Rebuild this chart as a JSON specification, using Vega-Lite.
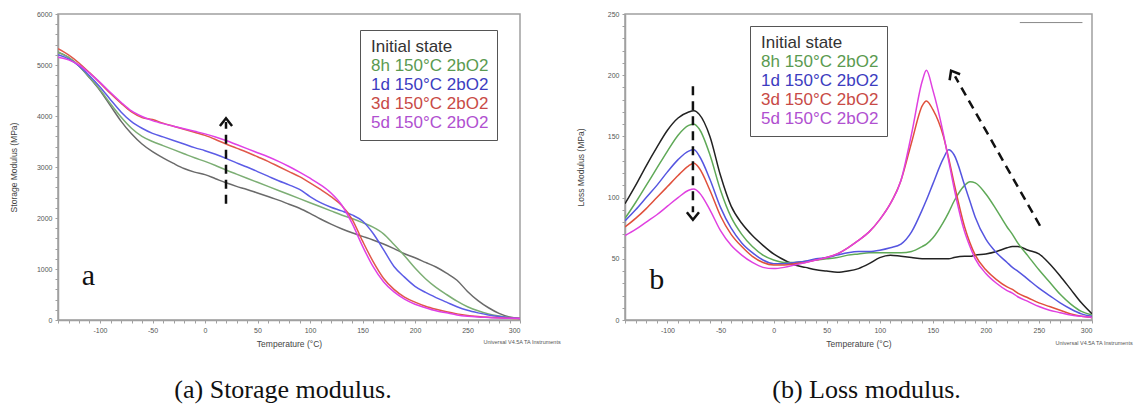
{
  "$schema": "https://vega.github.io/schema/vega-lite/v6.json",
  "background": "white",
  "padding": {"left": 8, "top": 9, "right": 5, "bottom": 5},
  "bounds": "flush",
  "spacing": 105,
  "config": {
    "view": {"stroke": "#a0a0a0", "strokeWidth": 1.5},
    "axis": {"domainColor": "#a0a0a0", "domainWidth": 1.5, "tickColor": "#a0a0a0", "labelColor": "#555", "labelFont": "Liberation Sans", "labelFontSize": 7, "titleFont": "Liberation Sans", "titleFontSize": 8.5, "titleFontWeight": "normal", "titleColor": "#444", "grid": false, "tickSize": 3, "labelPadding": 3}
  },
  "datasets": {
    "storage": [
      {"T":-140,"Initial state":5250,"8h 150°C 2bO2":5250,"1d 150°C 2bO2":5200,"3d 150°C 2bO2":5320,"5d 150°C 2bO2":5150},
      {"T":-130,"Initial state":5150,"8h 150°C 2bO2":5150,"1d 150°C 2bO2":5120,"3d 150°C 2bO2":5200,"5d 150°C 2bO2":5100},
      {"T":-120,"Initial state":4980,"8h 150°C 2bO2":4980,"1d 150°C 2bO2":4980,"3d 150°C 2bO2":5040,"5d 150°C 2bO2":5000},
      {"T":-110,"Initial state":4750,"8h 150°C 2bO2":4760,"1d 150°C 2bO2":4790,"3d 150°C 2bO2":4850,"5d 150°C 2bO2":4840},
      {"T":-100,"Initial state":4500,"8h 150°C 2bO2":4520,"1d 150°C 2bO2":4570,"3d 150°C 2bO2":4650,"5d 150°C 2bO2":4660},
      {"T":-90,"Initial state":4200,"8h 150°C 2bO2":4240,"1d 150°C 2bO2":4320,"3d 150°C 2bO2":4440,"5d 150°C 2bO2":4460},
      {"T":-80,"Initial state":3900,"8h 150°C 2bO2":3980,"1d 150°C 2bO2":4080,"3d 150°C 2bO2":4250,"5d 150°C 2bO2":4270},
      {"T":-70,"Initial state":3650,"8h 150°C 2bO2":3760,"1d 150°C 2bO2":3890,"3d 150°C 2bO2":4080,"5d 150°C 2bO2":4100},
      {"T":-60,"Initial state":3450,"8h 150°C 2bO2":3600,"1d 150°C 2bO2":3760,"3d 150°C 2bO2":3970,"5d 150°C 2bO2":3990},
      {"T":-50,"Initial state":3300,"8h 150°C 2bO2":3500,"1d 150°C 2bO2":3660,"3d 150°C 2bO2":3930,"5d 150°C 2bO2":3910},
      {"T":-40,"Initial state":3180,"8h 150°C 2bO2":3420,"1d 150°C 2bO2":3590,"3d 150°C 2bO2":3860,"5d 150°C 2bO2":3850},
      {"T":-30,"Initial state":3070,"8h 150°C 2bO2":3340,"1d 150°C 2bO2":3520,"3d 150°C 2bO2":3800,"5d 150°C 2bO2":3800},
      {"T":-20,"Initial state":2970,"8h 150°C 2bO2":3260,"1d 150°C 2bO2":3450,"3d 150°C 2bO2":3740,"5d 150°C 2bO2":3750},
      {"T":-10,"Initial state":2900,"8h 150°C 2bO2":3180,"1d 150°C 2bO2":3380,"3d 150°C 2bO2":3680,"5d 150°C 2bO2":3700},
      {"T":0,"Initial state":2850,"8h 150°C 2bO2":3110,"1d 150°C 2bO2":3320,"3d 150°C 2bO2":3620,"5d 150°C 2bO2":3650},
      {"T":10,"Initial state":2770,"8h 150°C 2bO2":3030,"1d 150°C 2bO2":3250,"3d 150°C 2bO2":3540,"5d 150°C 2bO2":3590},
      {"T":20,"Initial state":2690,"8h 150°C 2bO2":2940,"1d 150°C 2bO2":3170,"3d 150°C 2bO2":3450,"5d 150°C 2bO2":3520},
      {"T":30,"Initial state":2620,"8h 150°C 2bO2":2860,"1d 150°C 2bO2":3080,"3d 150°C 2bO2":3370,"5d 150°C 2bO2":3440},
      {"T":40,"Initial state":2560,"8h 150°C 2bO2":2780,"1d 150°C 2bO2":3000,"3d 150°C 2bO2":3290,"5d 150°C 2bO2":3360},
      {"T":50,"Initial state":2490,"8h 150°C 2bO2":2700,"1d 150°C 2bO2":2910,"3d 150°C 2bO2":3200,"5d 150°C 2bO2":3280},
      {"T":60,"Initial state":2420,"8h 150°C 2bO2":2620,"1d 150°C 2bO2":2820,"3d 150°C 2bO2":3110,"5d 150°C 2bO2":3200},
      {"T":70,"Initial state":2350,"8h 150°C 2bO2":2540,"1d 150°C 2bO2":2730,"3d 150°C 2bO2":3010,"5d 150°C 2bO2":3110},
      {"T":80,"Initial state":2270,"8h 150°C 2bO2":2460,"1d 150°C 2bO2":2650,"3d 150°C 2bO2":2910,"5d 150°C 2bO2":3010},
      {"T":90,"Initial state":2190,"8h 150°C 2bO2":2380,"1d 150°C 2bO2":2560,"3d 150°C 2bO2":2810,"5d 150°C 2bO2":2900},
      {"T":100,"Initial state":2090,"8h 150°C 2bO2":2300,"1d 150°C 2bO2":2420,"3d 150°C 2bO2":2690,"5d 150°C 2bO2":2780},
      {"T":110,"Initial state":1980,"8h 150°C 2bO2":2220,"1d 150°C 2bO2":2300,"3d 150°C 2bO2":2560,"5d 150°C 2bO2":2650},
      {"T":120,"Initial state":1880,"8h 150°C 2bO2":2140,"1d 150°C 2bO2":2210,"3d 150°C 2bO2":2420,"5d 150°C 2bO2":2490},
      {"T":130,"Initial state":1790,"8h 150°C 2bO2":2060,"1d 150°C 2bO2":2140,"3d 150°C 2bO2":2250,"5d 150°C 2bO2":2260},
      {"T":140,"Initial state":1710,"8h 150°C 2bO2":1990,"1d 150°C 2bO2":2060,"3d 150°C 2bO2":1980,"5d 150°C 2bO2":1900},
      {"T":150,"Initial state":1640,"8h 150°C 2bO2":1910,"1d 150°C 2bO2":1940,"3d 150°C 2bO2":1550,"5d 150°C 2bO2":1450},
      {"T":160,"Initial state":1570,"8h 150°C 2bO2":1820,"1d 150°C 2bO2":1700,"3d 150°C 2bO2":1150,"5d 150°C 2bO2":1050},
      {"T":170,"Initial state":1490,"8h 150°C 2bO2":1690,"1d 150°C 2bO2":1380,"3d 150°C 2bO2":820,"5d 150°C 2bO2":750},
      {"T":180,"Initial state":1400,"8h 150°C 2bO2":1480,"1d 150°C 2bO2":1050,"3d 150°C 2bO2":600,"5d 150°C 2bO2":550},
      {"T":190,"Initial state":1300,"8h 150°C 2bO2":1260,"1d 150°C 2bO2":840,"3d 150°C 2bO2":450,"5d 150°C 2bO2":410},
      {"T":200,"Initial state":1220,"8h 150°C 2bO2":1020,"1d 150°C 2bO2":660,"3d 150°C 2bO2":350,"5d 150°C 2bO2":310},
      {"T":210,"Initial state":1130,"8h 150°C 2bO2":810,"1d 150°C 2bO2":540,"3d 150°C 2bO2":270,"5d 150°C 2bO2":240},
      {"T":220,"Initial state":1040,"8h 150°C 2bO2":640,"1d 150°C 2bO2":440,"3d 150°C 2bO2":210,"5d 150°C 2bO2":180},
      {"T":230,"Initial state":920,"8h 150°C 2bO2":500,"1d 150°C 2bO2":350,"3d 150°C 2bO2":160,"5d 150°C 2bO2":140},
      {"T":240,"Initial state":780,"8h 150°C 2bO2":370,"1d 150°C 2bO2":260,"3d 150°C 2bO2":120,"5d 150°C 2bO2":100},
      {"T":250,"Initial state":560,"8h 150°C 2bO2":260,"1d 150°C 2bO2":190,"3d 150°C 2bO2":90,"5d 150°C 2bO2":75},
      {"T":260,"Initial state":380,"8h 150°C 2bO2":180,"1d 150°C 2bO2":140,"3d 150°C 2bO2":70,"5d 150°C 2bO2":60},
      {"T":270,"Initial state":240,"8h 150°C 2bO2":120,"1d 150°C 2bO2":100,"3d 150°C 2bO2":55,"5d 150°C 2bO2":50},
      {"T":280,"Initial state":130,"8h 150°C 2bO2":80,"1d 150°C 2bO2":70,"3d 150°C 2bO2":45,"5d 150°C 2bO2":40},
      {"T":290,"Initial state":60,"8h 150°C 2bO2":50,"1d 150°C 2bO2":45,"3d 150°C 2bO2":35,"5d 150°C 2bO2":35},
      {"T":300,"Initial state":30,"8h 150°C 2bO2":30,"1d 150°C 2bO2":30,"3d 150°C 2bO2":30,"5d 150°C 2bO2":30}
    ],
    "loss": [
      {"T":-140,"Initial state":95,"8h 150°C 2bO2":83,"1d 150°C 2bO2":81,"3d 150°C 2bO2":76,"5d 150°C 2bO2":69},
      {"T":-130,"Initial state":110,"8h 150°C 2bO2":96,"1d 150°C 2bO2":90,"3d 150°C 2bO2":83,"5d 150°C 2bO2":74},
      {"T":-120,"Initial state":126,"8h 150°C 2bO2":110,"1d 150°C 2bO2":100,"3d 150°C 2bO2":91,"5d 150°C 2bO2":80},
      {"T":-110,"Initial state":141,"8h 150°C 2bO2":124,"1d 150°C 2bO2":110,"3d 150°C 2bO2":100,"5d 150°C 2bO2":86},
      {"T":-100,"Initial state":155,"8h 150°C 2bO2":138,"1d 150°C 2bO2":121,"3d 150°C 2bO2":109,"5d 150°C 2bO2":93},
      {"T":-90,"Initial state":165,"8h 150°C 2bO2":151,"1d 150°C 2bO2":131,"3d 150°C 2bO2":118,"5d 150°C 2bO2":100},
      {"T":-80,"Initial state":170,"8h 150°C 2bO2":159,"1d 150°C 2bO2":138,"3d 150°C 2bO2":126,"5d 150°C 2bO2":106},
      {"T":-75,"Initial state":171,"8h 150°C 2bO2":160,"1d 150°C 2bO2":139,"3d 150°C 2bO2":128,"5d 150°C 2bO2":107},
      {"T":-70,"Initial state":168,"8h 150°C 2bO2":156,"1d 150°C 2bO2":134,"3d 150°C 2bO2":124,"5d 150°C 2bO2":104},
      {"T":-60,"Initial state":150,"8h 150°C 2bO2":135,"1d 150°C 2bO2":115,"3d 150°C 2bO2":106,"5d 150°C 2bO2":90},
      {"T":-50,"Initial state":118,"8h 150°C 2bO2":106,"1d 150°C 2bO2":92,"3d 150°C 2bO2":85,"5d 150°C 2bO2":73},
      {"T":-40,"Initial state":93,"8h 150°C 2bO2":84,"1d 150°C 2bO2":75,"3d 150°C 2bO2":70,"5d 150°C 2bO2":61},
      {"T":-30,"Initial state":79,"8h 150°C 2bO2":70,"1d 150°C 2bO2":63,"3d 150°C 2bO2":60,"5d 150°C 2bO2":53},
      {"T":-20,"Initial state":69,"8h 150°C 2bO2":60,"1d 150°C 2bO2":55,"3d 150°C 2bO2":52,"5d 150°C 2bO2":47},
      {"T":-10,"Initial state":61,"8h 150°C 2bO2":53,"1d 150°C 2bO2":49,"3d 150°C 2bO2":47,"5d 150°C 2bO2":43},
      {"T":0,"Initial state":54,"8h 150°C 2bO2":49,"1d 150°C 2bO2":46,"3d 150°C 2bO2":45,"5d 150°C 2bO2":42},
      {"T":10,"Initial state":49,"8h 150°C 2bO2":47,"1d 150°C 2bO2":46,"3d 150°C 2bO2":45,"5d 150°C 2bO2":43},
      {"T":20,"Initial state":45,"8h 150°C 2bO2":47,"1d 150°C 2bO2":47,"3d 150°C 2bO2":46,"5d 150°C 2bO2":45},
      {"T":30,"Initial state":43,"8h 150°C 2bO2":48,"1d 150°C 2bO2":48,"3d 150°C 2bO2":47,"5d 150°C 2bO2":47},
      {"T":40,"Initial state":41,"8h 150°C 2bO2":49,"1d 150°C 2bO2":50,"3d 150°C 2bO2":49,"5d 150°C 2bO2":49},
      {"T":50,"Initial state":40,"8h 150°C 2bO2":50,"1d 150°C 2bO2":51,"3d 150°C 2bO2":51,"5d 150°C 2bO2":51},
      {"T":60,"Initial state":39,"8h 150°C 2bO2":51,"1d 150°C 2bO2":53,"3d 150°C 2bO2":54,"5d 150°C 2bO2":54},
      {"T":70,"Initial state":40,"8h 150°C 2bO2":53,"1d 150°C 2bO2":55,"3d 150°C 2bO2":59,"5d 150°C 2bO2":59},
      {"T":80,"Initial state":42,"8h 150°C 2bO2":54,"1d 150°C 2bO2":56,"3d 150°C 2bO2":65,"5d 150°C 2bO2":65},
      {"T":90,"Initial state":46,"8h 150°C 2bO2":55,"1d 150°C 2bO2":56,"3d 150°C 2bO2":72,"5d 150°C 2bO2":72},
      {"T":100,"Initial state":51,"8h 150°C 2bO2":55,"1d 150°C 2bO2":57,"3d 150°C 2bO2":82,"5d 150°C 2bO2":82},
      {"T":110,"Initial state":53,"8h 150°C 2bO2":55,"1d 150°C 2bO2":59,"3d 150°C 2bO2":95,"5d 150°C 2bO2":95},
      {"T":120,"Initial state":52,"8h 150°C 2bO2":55,"1d 150°C 2bO2":62,"3d 150°C 2bO2":114,"5d 150°C 2bO2":114},
      {"T":130,"Initial state":51,"8h 150°C 2bO2":56,"1d 150°C 2bO2":72,"3d 150°C 2bO2":145,"5d 150°C 2bO2":152},
      {"T":140,"Initial state":50,"8h 150°C 2bO2":60,"1d 150°C 2bO2":90,"3d 150°C 2bO2":175,"5d 150°C 2bO2":195},
      {"T":144,"Initial state":50,"8h 150°C 2bO2":62,"1d 150°C 2bO2":98,"3d 150°C 2bO2":179,"5d 150°C 2bO2":204},
      {"T":150,"Initial state":50,"8h 150°C 2bO2":67,"1d 150°C 2bO2":111,"3d 150°C 2bO2":172,"5d 150°C 2bO2":188},
      {"T":160,"Initial state":50,"8h 150°C 2bO2":80,"1d 150°C 2bO2":132,"3d 150°C 2bO2":150,"5d 150°C 2bO2":152},
      {"T":165,"Initial state":50,"8h 150°C 2bO2":88,"1d 150°C 2bO2":139,"3d 150°C 2bO2":132,"5d 150°C 2bO2":130},
      {"T":170,"Initial state":51,"8h 150°C 2bO2":97,"1d 150°C 2bO2":135,"3d 150°C 2bO2":112,"5d 150°C 2bO2":108},
      {"T":180,"Initial state":52,"8h 150°C 2bO2":110,"1d 150°C 2bO2":110,"3d 150°C 2bO2":76,"5d 150°C 2bO2":72},
      {"T":185,"Initial state":52,"8h 150°C 2bO2":113,"1d 150°C 2bO2":97,"3d 150°C 2bO2":63,"5d 150°C 2bO2":60},
      {"T":190,"Initial state":53,"8h 150°C 2bO2":112,"1d 150°C 2bO2":84,"3d 150°C 2bO2":53,"5d 150°C 2bO2":50},
      {"T":200,"Initial state":54,"8h 150°C 2bO2":103,"1d 150°C 2bO2":66,"3d 150°C 2bO2":41,"5d 150°C 2bO2":38},
      {"T":210,"Initial state":56,"8h 150°C 2bO2":90,"1d 150°C 2bO2":55,"3d 150°C 2bO2":33,"5d 150°C 2bO2":30},
      {"T":220,"Initial state":59,"8h 150°C 2bO2":76,"1d 150°C 2bO2":47,"3d 150°C 2bO2":27,"5d 150°C 2bO2":24},
      {"T":225,"Initial state":60,"8h 150°C 2bO2":70,"1d 150°C 2bO2":43,"3d 150°C 2bO2":25,"5d 150°C 2bO2":22},
      {"T":230,"Initial state":60,"8h 150°C 2bO2":63,"1d 150°C 2bO2":40,"3d 150°C 2bO2":22,"5d 150°C 2bO2":19},
      {"T":240,"Initial state":57,"8h 150°C 2bO2":52,"1d 150°C 2bO2":33,"3d 150°C 2bO2":18,"5d 150°C 2bO2":15},
      {"T":250,"Initial state":54,"8h 150°C 2bO2":41,"1d 150°C 2bO2":26,"3d 150°C 2bO2":14,"5d 150°C 2bO2":11},
      {"T":260,"Initial state":46,"8h 150°C 2bO2":31,"1d 150°C 2bO2":20,"3d 150°C 2bO2":11,"5d 150°C 2bO2":8},
      {"T":270,"Initial state":36,"8h 150°C 2bO2":21,"1d 150°C 2bO2":14,"3d 150°C 2bO2":8,"5d 150°C 2bO2":6},
      {"T":280,"Initial state":25,"8h 150°C 2bO2":13,"1d 150°C 2bO2":9,"3d 150°C 2bO2":5,"5d 150°C 2bO2":4},
      {"T":290,"Initial state":14,"8h 150°C 2bO2":7,"1d 150°C 2bO2":5,"3d 150°C 2bO2":3,"5d 150°C 2bO2":3},
      {"T":300,"Initial state":5,"8h 150°C 2bO2":4,"1d 150°C 2bO2":3,"3d 150°C 2bO2":2,"5d 150°C 2bO2":2}
    ]
  },
  "resolve": {"scale": {"color": "independent"}},
  "hconcat": [
    {
      "width": 462,
      "height": 306,
      "title": {"text": "(a) Storage modulus.", "orient": "bottom", "font": "Liberation Serif", "fontSize": 26, "fontWeight": "normal", "color": "#111", "offset": 29, "dx": -6},
      "layer": [
        {
          "data": {"name": "storage"},
          "transform": [{"fold": ["Initial state", "8h 150°C 2bO2", "1d 150°C 2bO2", "3d 150°C 2bO2", "5d 150°C 2bO2"], "as": ["series", "value"]}],
          "mark": {"type": "line", "interpolate": "monotone", "strokeWidth": 1.5, "clip": true},
          "encoding": {
            "x": {"field": "T", "type": "quantitative", "scale": {"domain": [-140, 300], "nice": false, "zero": false},
              "axis": {"title": "Temperature (°C)", "tickCount": 200, "values": [-140,-130,-120,-110,-100,-90,-80,-70,-60,-50,-40,-30,-20,-10,0,10,20,30,40,50,60,70,80,90,100,110,120,130,140,150,160,170,180,190,200,210,220,230,240,250,260,270,280,290,300], "labelExpr": "datum.value % 50 == 0 ? '' + datum.value : ''", "labelOverlap": false, "titlePadding": 6}},
            "y": {"field": "value", "type": "quantitative", "scale": {"domain": [0, 6000], "nice": false},
              "axis": {"title": "Storage Modulus (MPa)", "tickCount": 200, "values": [0,200,400,600,800,1000,1200,1400,1600,1800,2000,2200,2400,2600,2800,3000,3200,3400,3600,3800,4000,4200,4400,4600,4800,5000,5200,5400,5600,5800,6000], "labelExpr": "datum.value % 1000 == 0 ? '' + datum.value : ''", "labelOverlap": false, "titlePadding": 18}},
            "color": {"field": "series", "type": "nominal", "sort": null,
              "scale": {"domain": ["Initial state", "8h 150°C 2bO2", "1d 150°C 2bO2", "3d 150°C 2bO2", "5d 150°C 2bO2"], "range": ["#6a6a6a", "#7cae74", "#5c5ce6", "#e0584a", "#e040e6"]},
              "legend": {"orient": "none", "legendX": 302, "legendY": 16, "title": null, "symbolType": "circle", "symbolOpacity": 0, "symbolSize": 0, "symbolStrokeWidth": 0, "labelFont": "Liberation Sans", "labelFontSize": 17, "labelLimit": 300, "labelOffset": -14, "strokeColor": "#555", "padding": 8, "fillColor": "white", "rowPadding": 1.2,
                "encode": {"labels": {"update": {"fill": {"signal": "datum.value == 'Initial state' ? '#333333' : datum.value == '8h 150°C 2bO2' ? '#5a9a50' : datum.value == '1d 150°C 2bO2' ? '#3c3cc0' : datum.value == '3d 150°C 2bO2' ? '#c84a46' : '#b050d0'"}}}}}
            }
          }
        },
        {
          "data": {"values": [{"T": 20, "v": 2280, "T2": 20, "v2": 3880}]},
          "mark": {"type": "rule", "strokeDash": [9, 6], "strokeWidth": 2.5, "color": "#111"},
          "encoding": {"x": {"field": "T", "type": "quantitative"}, "y": {"field": "v", "type": "quantitative"}, "x2": {"field": "T2"}, "y2": {"field": "v2"}}
        },
        {
          "data": {"values": [{"T": 20, "v": 3880}]},
          "mark": {"type": "point", "shape": "M-0.8,0.5L0,-0.5L0.8,0.5", "filled": false, "size": 230, "strokeWidth": 2.5, "color": "#111", "opacity": 1},
          "encoding": {"x": {"field": "T", "type": "quantitative"}, "y": {"field": "v", "type": "quantitative"}}
        },
        {
          "data": {"values": [{"T": -111, "v": 865, "label": "a"}]},
          "mark": {"type": "text", "font": "Liberation Serif", "fontSize": 30, "color": "#111", "baseline": "middle", "align": "center"},
          "encoding": {"x": {"field": "T", "type": "quantitative"}, "y": {"field": "v", "type": "quantitative"}, "text": {"field": "label"}}
        },
        {
          "data": {"values": [{"T": 302, "v": 0, "label": "Universal V4.5A TA Instruments"}]},
          "mark": {"type": "text", "font": "Liberation Sans", "fontSize": 5.5, "color": "#555", "baseline": "middle", "align": "center", "dy": 22, "clip": false},
          "encoding": {"x": {"field": "T", "type": "quantitative"}, "y": {"field": "v", "type": "quantitative"}, "text": {"field": "label"}}
        }
      ]
    },
    {
      "width": 467,
      "height": 306,
      "title": {"text": "(b) Loss modulus.", "orient": "bottom", "font": "Liberation Serif", "fontSize": 26, "fontWeight": "normal", "color": "#111", "offset": 29, "dx": 8},
      "layer": [
        {
          "data": {"name": "loss"},
          "transform": [{"fold": ["Initial state", "8h 150°C 2bO2", "1d 150°C 2bO2", "3d 150°C 2bO2", "5d 150°C 2bO2"], "as": ["series", "value"]}],
          "mark": {"type": "line", "interpolate": "monotone", "strokeWidth": 1.5, "clip": true},
          "encoding": {
            "x": {"field": "T", "type": "quantitative", "scale": {"domain": [-140, 300], "nice": false, "zero": false},
              "axis": {"title": "Temperature (°C)", "tickCount": 200, "values": [-140,-130,-120,-110,-100,-90,-80,-70,-60,-50,-40,-30,-20,-10,0,10,20,30,40,50,60,70,80,90,100,110,120,130,140,150,160,170,180,190,200,210,220,230,240,250,260,270,280,290,300], "labelExpr": "datum.value % 50 == 0 ? '' + datum.value : ''", "labelOverlap": false, "titlePadding": 6}},
            "y": {"field": "value", "type": "quantitative", "scale": {"domain": [0, 250], "nice": false},
              "axis": {"title": "Loss Modulus (MPa)", "tickCount": 200, "values": [0,10,20,30,40,50,60,70,80,90,100,110,120,130,140,150,160,170,180,190,200,210,220,230,240,250], "labelExpr": "datum.value % 50 == 0 ? '' + datum.value : ''", "labelOverlap": false, "titlePadding": 22}},
            "color": {"field": "series", "type": "nominal", "sort": null,
              "scale": {"domain": ["Initial state", "8h 150°C 2bO2", "1d 150°C 2bO2", "3d 150°C 2bO2", "5d 150°C 2bO2"], "range": ["#222222", "#5fa957", "#5555e0", "#e0503c", "#e040e0"]},
              "legend": {"orient": "none", "legendX": 125, "legendY": 12, "title": null, "symbolType": "circle", "symbolOpacity": 0, "symbolSize": 0, "symbolStrokeWidth": 0, "labelFont": "Liberation Sans", "labelFontSize": 17, "labelLimit": 300, "labelOffset": -14, "strokeColor": "#555", "padding": 8, "fillColor": "white", "rowPadding": 1.2,
                "encode": {"labels": {"update": {"fill": {"signal": "datum.value == 'Initial state' ? '#333333' : datum.value == '8h 150°C 2bO2' ? '#5a9a50' : datum.value == '1d 150°C 2bO2' ? '#3c3cc0' : datum.value == '3d 150°C 2bO2' ? '#c84a46' : '#b050d0'"}}}}}
            }
          }
        },
        {
          "data": {"values": [{"T": -76, "v": 191, "T2": -76, "v2": 88}, {"T": 251, "v": 77, "T2": 171, "v2": 199}]},
          "mark": {"type": "rule", "strokeDash": [9, 6], "strokeWidth": 2.5, "color": "#111"},
          "encoding": {"x": {"field": "T", "type": "quantitative"}, "y": {"field": "v", "type": "quantitative"}, "x2": {"field": "T2"}, "y2": {"field": "v2"}}
        },
        {
          "data": {"values": [{"T": -76, "v": 85}]},
          "mark": {"type": "point", "shape": "M-0.8,-0.5L0,0.5L0.8,-0.5", "filled": false, "size": 230, "strokeWidth": 2.5, "color": "#111", "opacity": 1},
          "encoding": {"x": {"field": "T", "type": "quantitative"}, "y": {"field": "v", "type": "quantitative"}}
        },
        {
          "data": {"values": [{"T": 169, "v": 201}]},
          "mark": {"type": "point", "shape": "M-0.8,0.5L0,-0.5L0.8,0.5", "filled": false, "size": 230, "strokeWidth": 2.5, "color": "#111", "opacity": 1, "angle": 330},
          "encoding": {"x": {"field": "T", "type": "quantitative"}, "y": {"field": "v", "type": "quantitative"}}
        },
        {
          "data": {"values": [{"T": 232, "v": 243, "T2": 291}]},
          "mark": {"type": "rule", "strokeWidth": 1, "color": "#888"},
          "encoding": {"x": {"field": "T", "type": "quantitative"}, "y": {"field": "v", "type": "quantitative"}, "x2": {"field": "T2"}}
        },
        {
          "data": {"values": [{"T": -110, "v": 33, "label": "b"}]},
          "mark": {"type": "text", "font": "Liberation Serif", "fontSize": 30, "color": "#111", "baseline": "middle", "align": "center"},
          "encoding": {"x": {"field": "T", "type": "quantitative"}, "y": {"field": "v", "type": "quantitative"}, "text": {"field": "label"}}
        },
        {
          "data": {"values": [{"T": 302, "v": 0, "label": "Universal V4.5A TA Instruments"}]},
          "mark": {"type": "text", "font": "Liberation Sans", "fontSize": 5.5, "color": "#555", "baseline": "middle", "align": "center", "dy": 23, "clip": false},
          "encoding": {"x": {"field": "T", "type": "quantitative"}, "y": {"field": "v", "type": "quantitative"}, "text": {"field": "label"}}
        }
      ]
    }
  ]
}
